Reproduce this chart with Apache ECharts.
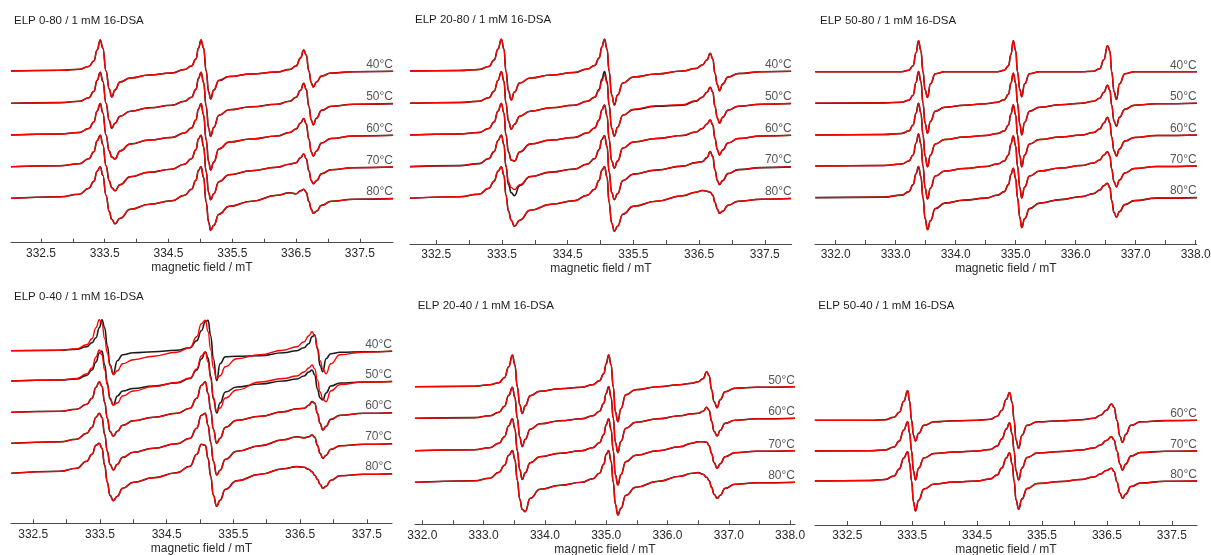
<!DOCTYPE html>
<html><head><meta charset="utf-8">
<script src="https://cdn.jsdelivr.net/npm/echarts@6/dist/echarts.min.js"></script>
<style>html,body{margin:0;padding:0;background:#fff}#c{width:1211px;height:555px}</style>
</head><body><div id="c"></div>
<script>
// ---------------- DATA ----------------
// field grids (mT) for each panel
const field_P1 = [332.03,332.80,333.10,333.25,333.33,333.38,333.43,333.47,333.52,333.57,333.61,333.66,333.74,333.90,334.20,334.55,334.75,334.86,334.93,334.97,335.01,335.05,335.09,335.13,335.16,335.21,335.29,335.45,335.80,336.20,336.40,336.50,336.57,336.62,336.66,336.70,336.74,336.77,336.82,336.90,337.05,337.40,338.02];
const field_P2 = [332.10,332.85,333.15,333.30,333.38,333.44,333.49,333.53,333.56,333.60,333.64,333.69,333.77,333.93,334.25,334.60,334.80,334.91,334.98,335.02,335.06,335.10,335.13,335.17,335.21,335.26,335.34,335.50,335.85,336.25,336.45,336.55,336.62,336.67,336.71,336.74,336.78,336.81,336.86,336.94,337.10,337.45,337.90];
const field_P3 = [331.66,332.80,333.10,333.22,333.29,333.34,333.38,333.42,333.455,333.49,333.53,333.58,333.66,333.82,334.15,334.50,334.70,334.81,334.88,334.92,334.96,335.00,335.03,335.07,335.10,335.15,335.23,335.40,335.75,336.10,336.30,336.40,336.47,336.53,336.57,336.60,336.64,336.68,336.73,336.82,336.98,337.35,338.02];
const field_P4 = [332.17,332.90,333.15,333.30,333.38,333.44,333.49,333.53,333.57,333.61,333.65,333.70,333.76,333.84,334.00,334.30,334.65,334.85,334.95,335.02,335.08,335.12,335.16,335.20,335.25,335.30,335.38,335.55,335.90,336.25,336.45,336.56,336.63,336.68,336.72,336.76,336.80,336.84,336.89,336.96,337.10,337.45,337.88];
const field_P5 = [331.88,332.85,333.10,333.25,333.34,333.41,333.47,333.51,333.55,333.59,333.63,333.68,333.76,333.92,334.25,334.60,334.78,334.89,334.96,335.00,335.04,335.08,335.115,335.15,335.19,335.24,335.32,335.48,335.85,336.20,336.40,336.50,336.58,336.64,336.68,336.72,336.76,336.81,336.86,336.94,337.10,337.45,338.08];
const field_P6 = [332.00,332.85,333.08,333.22,333.30,333.37,333.43,333.46,333.49,333.52,333.55,333.60,333.68,333.84,334.15,334.50,334.70,334.81,334.88,334.95,335.00,335.04,335.07,335.10,335.14,335.19,335.27,335.43,335.80,336.10,336.30,336.40,336.49,336.57,336.61,336.655,336.70,336.74,336.79,336.87,337.02,337.40,337.89];

// temperatures
const temps_P1 = ['40°C','50°C','60°C','70°C','80°C'];
const temps_P2 = ['40°C','50°C','60°C','70°C','80°C'];
const temps_P3 = ['40°C','50°C','60°C','70°C','80°C'];
const temps_P4 = ['40°C','50°C','60°C','70°C','80°C'];
const temps_P5 = ['50°C','60°C','70°C','80°C'];
const temps_P6 = ['60°C','70°C','80°C'];

// signal (deflection from each trace's own baseline), simulated (red)
const P1_40 = [0,0.7,1.7,4.5,10,21,31,23,0,-18,-26,-19,-11,-7,-4,-2,1.5,5,12,23,31,23,0,-21,-28,-19,-9.5,-5.5,-3,-1,1.5,5,13,21,16,0,-12,-16,-11,-5,-2,-0.7,-0.3];
const P1_50 = [0,0.7,2,5.5,12,23,31,22,0,-17,-25,-20,-13,-8,-4.5,-2,2,6,14,25,31,21,-3,-25,-33,-24,-12,-6.5,-3.5,-1,2,6,13,20,14,-3,-17,-21.5,-15,-7,-3,-1,-0.3];
const P1_60 = [0,1,2.5,6.5,13,24,31.5,22,0,-16,-22,-24,-16,-9,-5,-2.5,2,7,15,26,31.5,20,-5,-27,-35,-27,-14,-7,-4,-1,2.5,6,12,16.5,11,-4,-17,-21,-16,-8,-3.5,-1,-0.3];
const P1_70 = [0,1,3,8,15,26,31.5,22,1,-14,-21,-24,-18,-10,-5.5,-2.5,2.5,8,17,28,31.5,20,-5,-26,-33,-27,-15,-8,-4,-0.5,2.5,4,9,12.7,8,-4,-14,-17,-14,-7,-3,-1,-0.3];
const P1_80 = [0,1.5,4,10,17,27,31.5,23,3,-13,-21,-25.5,-20,-11,-6,-2.5,3,9,18,28,31.5,21,-4,-24,-32,-27,-16,-8,-3,3,5.5,4.5,7.5,9,6,-3,-11,-15,-13,-7,-3,-1,-0.3];

const P2_40 = [0,0.5,1.5,4.5,11,22,31.7,22,0,-20,-29,-21,-12,-7,-4,-1.5,2,5.5,13,24,31.7,22,0,-24,-34,-24,-12,-6,-3,0,2.5,6,11,17.7,12,-2,-14,-19.7,-13,-6,-2.5,-0.7,-0.3];
const P2_50 = [0,0.7,2,5.5,12,23,31.5,22,0,-18,-26,-21,-13,-8,-4.5,-2,2,6,13,22,28,20,-2,-25,-33,-24,-12,-6,-2.5,-1.5,2.5,6,11,16,11,-3,-15,-20,-14,-7,-3,-1,-0.3];
const P2_60 = [0,1,2.5,6.5,13,24,31.5,22,0,-17,-25,-26,-17,-9,-5,-2.5,2,7,15,25,30,19,-4,-26,-33,-26,-13,-7,-3.5,-0.5,3,6.5,11,15,10,-3,-15,-20,-15,-8,-3.5,-1,-0.3];
const P2_70 = [0,1,3,8,15,26,31.5,22,1,-15,-21,-23,-18,-10,-5.5,-2.5,2.5,8,17,27,31,20,-5,-26,-33,-27,-14,-7.5,-3.5,0.5,4,5,9,15,10,-3,-14,-18,-14,-7,-3,-1,-0.3];
const P2_80 = [0,1.5,4,10,17,27,31.5,23,3,-13,-22,-28,-22,-12,-6,-2.5,3,9,18,28,31.5,21,-4,-25,-33,-28,-16,-8,-3,2.5,6,7.7,7,6,3,-4,-11,-15,-13,-7,-3,-1,-0.3];

const P3_40 = [0,0,0,1.5,6,19,31,21,0,-18,-25.7,-12,-2,0,0,0,0,1.5,6,17,31,21,0,-18,-25,-12,-2,0,0,0,0.5,3,12,26,21,0,-20,-27.7,-12,-2,0,0,0];
const P3_50 = [0,0.3,1,3,8,21,31.7,22,0,-20,-30,-18,-8,-4,-2,-0.5,1,3.5,9,20,30,20,0,-21,-31.7,-19,-8,-4,-1.5,0,2,5,11,18,13,-2,-18,-23,-14,-6,-2,-0.5,0];
const P3_60 = [0,0.5,1.5,4,10,22,31.7,22,0,-21,-31.7,-20,-9,-4.5,-2,-0.5,1.5,4,10,21,30,20,0,-21,-31.7,-20,-9,-4.5,-2,0,2.5,6,12,17.7,12,-2,-16,-21,-14,-6,-2.5,-0.5,0];
const P3_70 = [0,0.5,2,5,11,23,32,22,0,-22,-33,-22,-10,-5,-2.5,-0.5,2,5,11,22,30,20,0,-22,-32,-21,-10,-5,-2,0.5,3,6,11,14.3,10,-3,-16,-20.7,-14,-7,-2.5,-0.5,0];
const P3_80 = [0,0.5,2.5,6,13,24,31,21,0,-21,-32,-23,-11,-5.5,-2.5,-0.5,2.5,6,13,23,29.3,19,0,-20,-30,-21,-11,-5.5,-2,1,4,7.5,12,14.3,10,-3,-15,-19.7,-14,-7,-3,-0.5,0];

const P4_40 = [0,0.5,2,6,12,23,31,27,12,-2,-15,-24,-20,-13,-9,-5.5,-1.5,3,14,27,30.5,19,1,-17,-28,-25,-16,-8,-4,0.5,4,9,15,19,15,3,-10,-18,-23,-13,-4,-1.5,-0.5];
const P4_50 = [0,1,2.5,7,13,24,31,26,11,-4,-17,-24,-22,-15,-10,-5.5,-1.5,3,12,25,29.3,19,2,-16,-30,-27,-17,-9,-1,2.5,5,9,13,16,12,1,-11,-18,-20.7,-10,-3.5,-1,-0.5];
const P4_60 = [0,1,3,8,14,25,30.5,26,10,-6,-19,-24,-19,-13,-8.5,-5,-1,4,14,27,30.5,19,2,-17,-31,-26,-15,-8,-4,0.5,3.5,4,7,10.7,9,-1,-11,-17.7,-14,-7,-3,-1,-0.5];
const P4_70 = [0,1.5,4,10,16,26,30,26,9,-8,-21,-26.7,-21,-14,-9,-5,-0.5,5,15,28,30,18,1,-18,-31.7,-27,-16,-8,-2.5,3.5,6.5,5.5,6.5,8.3,6,-2,-10,-15,-12,-6,-2.5,-1,-0.5];
const P4_80 = [0,2,5,12,19,28,30,25,8,-9,-22,-27.3,-23,-15,-9,-4.5,0.5,7,19,29,28,15,-3,-22,-33,-27,-16,-7.5,-1,4.5,6.7,6,4,1.5,-2,-6,-11,-15,-13,-7,-2.5,-1,-0.5];

const P5_50 = [0,0.5,2,4,9,20,31.7,22,0,-18,-26.7,-19,-9,-4.5,-2,-0.5,2,6,13,23,31.7,22,0,-25,-35,-22,-8,-3,0,2,3.5,5,8,15,11,-3,-15,-21,-13,-5,-1.5,-0.5,0];
const P5_60 = [0,0.7,2.5,6,12,23,31,21,0,-19,-28.3,-21,-11,-5.5,-2.5,-0.5,2.5,7,15,25,31.7,21,0,-24,-34.3,-23,-10,-4,-0.5,2.5,4.5,5,7,11,8,-3,-13,-17.7,-12,-5,-2,-0.5,0];
const P5_70 = [0,1,3,7.5,14,25,32,22,0,-19,-28.7,-22,-12,-6,-2.5,0,3,8,16,26,32,21,0,-24,-34.3,-24,-11,-4.5,0,4,7.5,9,9,8.5,5,-3,-12,-17.7,-13,-6,-2,-0.5,0];
const P5_80 = [0,1.5,4,10,17,27,31.7,23,2,-17,-27,-29.3,-16,-7,-3,0,3.5,9,18,28,31.7,21,0,-22,-32.7,-26,-13,-5,1,6,9,9.7,8,5,1.5,-5,-12,-16,-13,-6,-2,-0.5,0];

const P6_60 = [0,0,0.5,3,8,19,29.7,19,0,-15,-20.7,-13,-5,-1.5,-0.5,0,1,4,10,21,27.7,18,0,-20,-28,-15,-5,-1.5,-0.5,0.5,2,5,10,16.3,13,0,-16,-22,-14,-5,-1.5,-0.3,0];
const P6_70 = [0,0.3,1,4,10,21,29.3,18,0,-20,-29,-17,-7,-2.5,-1,0,1.5,5,12,22,28.3,17,0,-20,-29,-17,-6.5,-2,-0.5,1,3,6,10.5,14.3,11,0,-13,-19,-13,-5,-1.5,-0.3,0];
const P6_80 = [0,0.5,1.5,5,12,23,29.3,18,0,-21,-30,-19,-8,-3,-1,0,2,6,13,23,28.3,17,0,-19,-28.3,-18,-7.5,-2.5,-0.5,1.5,4,7,10.5,12.7,9.5,-1,-12,-17.3,-13,-5.5,-2,-0.3,0];

// experimental (black) where it visibly departs from the simulation
const P2_50_exp = [0,0.7,2,5.5,12,23,31.5,22,0,-18,-26,-21,-13,-8,-4.5,-2,2,6,14,24,31.7,22,-2,-25,-33,-24,-12,-6.5,-3,-2,2,6,11,16,11,-3,-15,-20,-14,-7,-3,-1,-0.3];
const P2_70_exp = [0,1,3,8,15,26,31.5,22,0,-18,-26,-29,-19,-10,-5.5,-2.5,2.5,8,17,27,31,20,-5,-26,-33,-27,-14,-7.5,-3.5,0.5,4,5,9,15,10,-3,-14,-18,-14,-7,-3,-1,-0.3];
const P4_40_exp = [0,0.5,1.5,4,8,13,23,31,23,5,-14,-23,-10,-4,-2,-1,0.5,3,10,20,29,30.5,15,-8,-30,-13,-6,-5.5,-5,-2,0,3,7,14,16,2,-15,-21,-8,-3,-1.5,-1,-0.5];
const P4_50_exp = [0,1,2,5.5,11,19,28,30,16,-2,-18,-24,-15,-10,-7.5,-5,-2,2.5,11,22,29,23,5,-18,-32,-22,-11,-6,-3,0,2,5,9,11,6,-8,-17,-19,-12,-5,-2,-1,-0.5];

// tick values and labelled ticks
const ticks_half_A = [332.5,333.0,333.5,334.0,334.5,335.0,335.5,336.0,336.5,337.0,337.5];
const labels_A = [332.5,333.5,334.5,335.5,336.5,337.5];
const ticks_half_B = [332.0,332.5,333.0,333.5,334.0,334.5,335.0,335.5,336.0,336.5,337.0,337.5,338.0];
const labels_B = [332.0,333.0,334.0,335.0,336.0,337.0,338.0];

const titles = ['ELP 0-80 / 1 mM 16-DSA','ELP 20-80 / 1 mM 16-DSA','ELP 50-80 / 1 mM 16-DSA','ELP 0-40 / 1 mM 16-DSA','ELP 20-40 / 1 mM 16-DSA','ELP 50-40 / 1 mM 16-DSA'];

// ---------------- LAYOUT ----------------
const FONT = 'Liberation Sans, Arial, Helvetica, sans-serif';
const panels = [
  {field:field_P1, temps:temps_P1, sim:[P1_40,P1_50,P1_60,P1_70,P1_80], exp:[null,null,null,null,null], ticks:ticks_half_A, labels:labels_A,
   left:11, width:382, top:30, axisY:242.7, min:332.03, max:338.02, offsets:[171.7,139.4,107.7,76,44.4], tl:14, tt:14.5},
  {field:field_P2, temps:temps_P2, sim:[P2_40,P2_50,P2_60,P2_70,P2_80], exp:[null,P2_50_exp,null,P2_70_exp,null], ticks:ticks_half_A, labels:labels_A,
   left:410, width:381.7, top:30, axisY:244, min:332.10, max:337.91, offsets:[173,140.8,109,77.4,45.8], tl:415, tt:14},
  {field:field_P3, temps:temps_P3, sim:[P3_40,P3_50,P3_60,P3_70,P3_80], exp:[null,null,null,null,null], ticks:ticks_half_B, labels:labels_B,
   left:815, width:381.7, top:30, axisY:244, min:331.655, max:338.017, offsets:[172.3,140.8,109,78,46.4], tl:820, tt:14.5},
  {field:field_P4, temps:temps_P4, sim:[P4_40,P4_50,P4_60,P4_70,P4_80], exp:[P4_40_exp,P4_50_exp,null,null,null], ticks:ticks_half_A, labels:labels_A,
   left:11, width:381, top:310, axisY:523.3, min:332.166, max:337.878, offsets:[172.6,142.3,111,80,50], tl:14, tt:290.5},
  {field:field_P5, temps:temps_P5, sim:[P5_50,P5_60,P5_70,P5_80], exp:[null,null,null,null], ticks:ticks_half_B, labels:labels_B,
   left:415, width:380, top:310, axisY:524.3, min:331.881, max:338.08, offsets:[137.6,106,73.6,42], tl:417.7, tt:299.5},
  {field:field_P6, temps:temps_P6, sim:[P6_60,P6_70,P6_80], exp:[null,null,null], ticks:ticks_half_A, labels:labels_A,
   left:815, width:382, top:310, axisY:525, min:332.002, max:337.888, offsets:[104.7,74,44], tl:818.3, tt:299.5}
];

const grid=[], xAxis=[], yAxis=[], series=[], title=[];
panels.forEach((p,i)=>{
  const H = p.axisY - p.top;
  grid.push({left:p.left, top:p.top, width:p.width, height:H, outerBoundsMode:'none', containLabel:false});
  xAxis.push({gridIndex:i, type:'value', min:p.min, max:p.max,
    axisLine:{show:true, onZero:false, lineStyle:{color:'#4a4a4a', width:1}},
    axisTick:{show:true, inside:true, length:4, customValues:p.ticks, lineStyle:{color:'#4a4a4a'}},
    axisLabel:{show:true, customValues:p.labels, formatter:v=>Number(v).toFixed(1), fontSize:12, color:'#2a2a2a', fontFamily:FONT, margin:5},
    splitLine:{show:false},
    name:'magnetic field / mT', nameLocation:'middle', nameGap:19,
    nameTextStyle:{fontSize:12, color:'#2a2a2a', fontFamily:FONT}});
  yAxis.push({gridIndex:i, type:'value', min:0, max:H, show:false, splitLine:{show:false}});
  title.push({text:titles[i], left:p.tl, top:p.tt, padding:0,
    textStyle:{fontSize:11.5, fontWeight:'normal', color:'#1e1e1e', fontFamily:FONT}});
  p.sim.forEach((arr,k)=>{
    const off = p.offsets[k];
    const ex = p.exp[k] || arr;
    series.push({type:'line', xAxisIndex:i, yAxisIndex:i, silent:true, showSymbol:false, symbol:'none',
      smooth:0.5, smoothMonotone:'x', clip:false,
      lineStyle:{color:'#1a1a1a', width:1.6},
      data:p.field.map((f,j)=>[f, off+ex[j]])});
    series.push({type:'line', xAxisIndex:i, yAxisIndex:i, silent:true, showSymbol:false, symbol:'none',
      smooth:0.5, smoothMonotone:'x', clip:false,
      lineStyle:{color:'#ff0000', width:1.35},
      data:p.field.map((f,j)=>[f, off+arr[j]])});
  });
  series.push({type:'scatter', xAxisIndex:i, yAxisIndex:i, silent:true, symbolSize:0, clip:false,
    itemStyle:{color:'rgba(0,0,0,0)'},
    label:{show:true, position:'top', align:'right', distance:0.5, fontSize:12, color:'#2a2a2a', fontFamily:FONT,
      formatter:(d)=>p.temps[d.dataIndex]},
    data:p.offsets.map(o=>[p.max, o])});
});

const chart = echarts.init(document.getElementById('c'), null, {renderer:'canvas'});
chart.setOption({animation:false, backgroundColor:'#fff', title, grid, xAxis, yAxis, series});
</script></body></html>
